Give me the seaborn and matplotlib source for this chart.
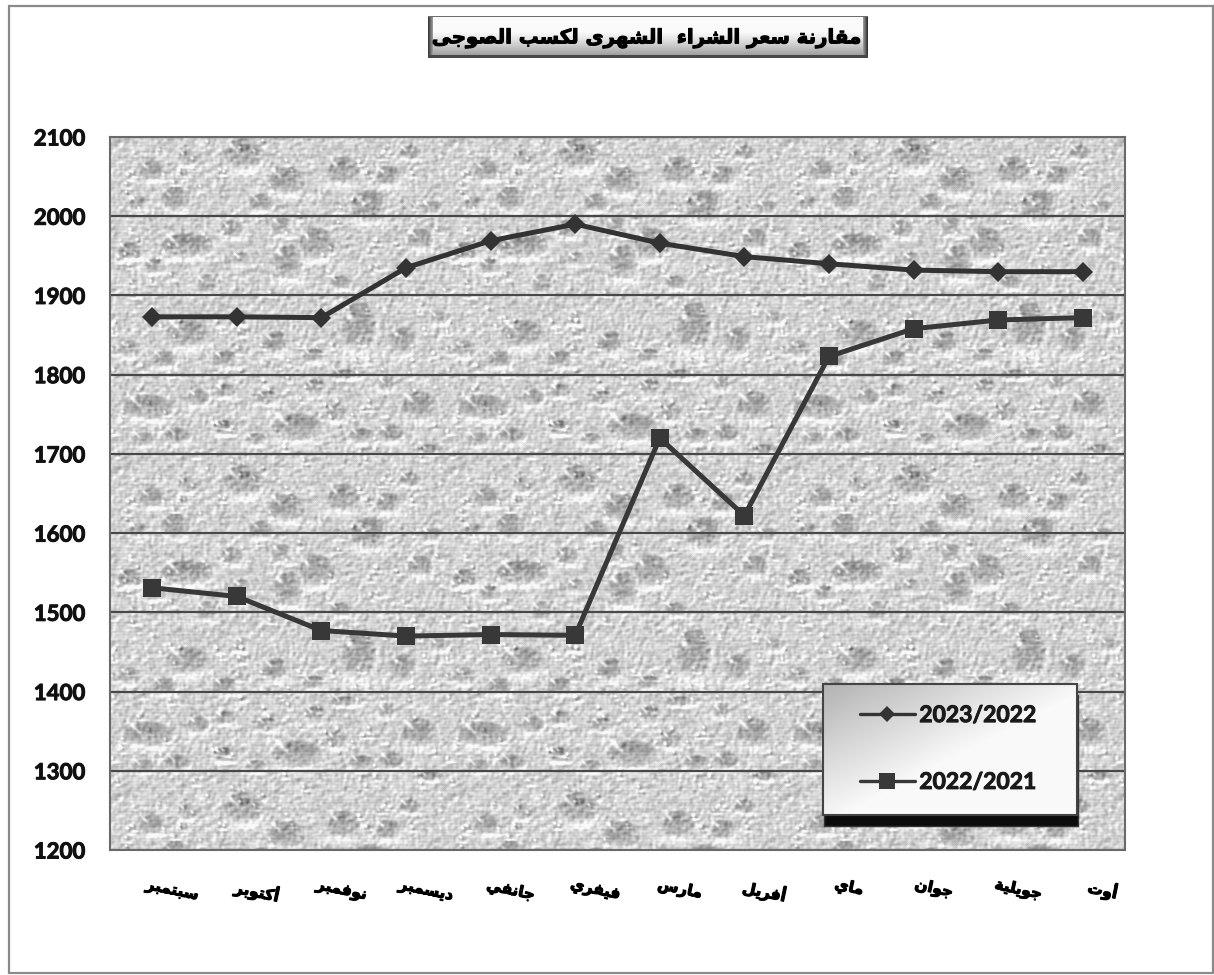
import numpy as np
import pandas as pd
import matplotlib
matplotlib.use("Agg")
import matplotlib.pyplot as plt
import matplotlib.patheffects as pe
import seaborn as sns
from matplotlib.patches import Rectangle
from matplotlib.transforms import ScaledTranslation

W, H = 1214, 975

TITLE = "مقارنة سعر الشراء  الشهرى لكسب الصوجى"
MONTHS = ["سبتمبر", "أكتوبر", "نوفمبر", "ديسمبر", "جانفي", "فيفري",
          "مارس", "أفريل", "ماي", "جوان", "جويلية", "أوت"]
SEASON_A = "2023/2022"
SEASON_B = "2022/2021"
VALUES_A = [1873, 1873, 1872, 1935, 1969, 1990, 1966, 1949, 1940, 1932, 1930, 1930]
VALUES_B = [1531, 1520, 1477, 1470, 1472, 1471, 1720, 1622, 1823, 1858, 1869, 1872]
Y_TICKS = [1200, 1300, 1400, 1500, 1600, 1700, 1800, 1900, 2000, 2100]

# background picture only: drops of the repeating tile (x, y, rx, ry, in 1/3 px)
DROPS = [(400, 50, 55, 45), (530, 130, 50, 40), (700, 100, 45, 40), (125, 100, 35, 28),
         (195, 185, 40, 35), (230, 60, 25, 25), (835, 115, 35, 28), (775, 205, 50, 45),
         (455, 195, 35, 25), (85, 195, 25, 20), (965, 210, 30, 20), (900, 45, 30, 20),
         (365, 275, 30, 25), (515, 265, 30, 25), (230, 325, 75, 35), (620, 320, 50, 45),
         (535, 375, 40, 50), (930, 305, 35, 30), (60, 340, 35, 25), (135, 385, 30, 22),
         (395, 365, 25, 20), (290, 440, 28, 28), (690, 435, 30, 20), (745, 570, 50, 70),
         (235, 590, 60, 40), (880, 610, 35, 40), (495, 615, 35, 35), (60, 635, 30, 25),
         (165, 665, 35, 25), (345, 665, 35, 25), (610, 655, 30, 20), (985, 540, 25, 20),
         (700, 710, 35, 15), (115, 810, 70, 35), (265, 780, 30, 25), (345, 760, 30, 20),
         (470, 780, 30, 20), (615, 750, 30, 25), (930, 805, 50, 40), (830, 740, 25, 20),
         (560, 870, 70, 40), (340, 870, 30, 22), (205, 895, 35, 25), (100, 905, 30, 20),
         (435, 905, 30, 18), (755, 895, 35, 22), (845, 890, 35, 25), (680, 825, 30, 25),
         (960, 935, 35, 15)]

# first presentation form of each letter, with 4 forms or only isolated/final
DUAL = {"ب": 0xFE8F, "ت": 0xFE95, "ج": 0xFE9D, "س": 0xFEB1, "ش": 0xFEB5, "ص": 0xFEB9,
        "ع": 0xFEC9, "ف": 0xFED1, "ق": 0xFED5, "ك": 0xFED9, "ل": 0xFEDD, "م": 0xFEE1,
        "ن": 0xFEE5, "ه": 0xFEE9, "ي": 0xFEF1}
RIGHT = {"ا": 0xFE8D, "أ": 0xFE83, "ة": 0xFE93, "د": 0xFEA9, "ر": 0xFEAD, "ز": 0xFEAF,
         "و": 0xFEED, "ى": 0xFEEF}
ALONE = {"ء": 0xFE80}


def shape(text):
    # matplotlib does no Arabic shaping, so pick the glyph forms and reverse
    out = []
    for i, c in enumerate(text):
        if c not in DUAL and c not in RIGHT and c not in ALONE:
            out.append(c)
            continue
        if c in ALONE:
            out.append(chr(ALONE[c]))
            continue
        before = i > 0 and text[i - 1] in DUAL
        after = i + 1 < len(text) and (text[i + 1] in DUAL or text[i + 1] in RIGHT)
        if c in RIGHT:
            out.append(chr(RIGHT[c] + (1 if before else 0)))
        elif before and after:
            out.append(chr(DUAL[c] + 3))
        elif after:
            out.append(chr(DUAL[c] + 2))
        elif before:
            out.append(chr(DUAL[c] + 1))
        else:
            out.append(chr(DUAL[c]))
    return "".join(reversed(out))


def blur(a, n=1):
    for _ in range(n):
        a = (a + np.roll(a, 1, 0) + np.roll(a, -1, 0) + np.roll(a, 1, 1) + np.roll(a, -1, 1)) / 5
    return a


def water_tile(tw=335, th=327):
    # texture only, the fixed seed never touches the chart values
    rng = np.random.default_rng(7)
    img = 210 + blur(rng.normal(0, 38, (th, tw)), 3)
    yy, xx = np.mgrid[0:th, 0:tw]
    small = [(rng.uniform(0, 1005), rng.uniform(0, 981), rng.uniform(7, 15), rng.uniform(6, 13))
             for _ in range(150)]
    for zx, zy, zrx, zry in DROPS + small:
        cx, cy, rx, ry = zx / 3, zy / 3, zrx / 3, zry / 3
        dx = (xx - cx + tw / 2) % tw - tw / 2
        dy = (yy - cy + th / 2) % th - th / 2
        d = (dx / rx) ** 2 + (dy / ry) ** 2
        strength = 62 * min(1.0, rx / 12)
        body = np.clip(1.2 - d, 0, 1) ** 0.6
        img -= strength * body * (0.7 + 0.3 * np.clip(-dy / ry, -1, 1))
        # soft light under the drop and a sliver on the upper left
        under = np.exp(-((dx / (rx * 1.1)) ** 2 + ((dy - ry * 1.25) / (ry * 0.35)) ** 2))
        img += 30 * under
        u = (dx + rx * 0.55) * 0.7 + (dy + ry * 0.45) * 0.7
        v = -(dx + rx * 0.55) * 0.7 + (dy + ry * 0.45) * 0.7
        img += 75 * np.exp(-(u / (rx * 0.42)) ** 2 - (v / max(ry * 0.13, 1.0)) ** 2)
    img = blur(img, 1)
    # raised look, as if embossed
    img += 0.8 * (img - np.roll(img, (2, 2), (0, 1)))
    img += 4 * np.sin(yy * 2 * np.pi / 3)
    return np.clip(img, 80, 250)


def main():
    sns.set_theme(style="white")
    plt.rcParams["font.family"] = ["DejaVu Sans"]

    df = pd.DataFrame({
        "month": MONTHS * 2,
        "price": VALUES_A + VALUES_B,
        "season": [SEASON_A] * len(MONTHS) + [SEASON_B] * len(MONTHS),
    })

    fig = plt.figure(figsize=(W / 100, H / 100), dpi=100, facecolor="white")
    ax = fig.add_axes([110 / W, 1 - 850 / H, 1015 / W, 713 / H])

    sns.lineplot(data=df, x="month", y="price", hue="season", style="season",
                 hue_order=[SEASON_A, SEASON_B], style_order=[SEASON_A, SEASON_B],
                 palette=["#333333", "#383838"], markers=["D", "s"], dashes=False,
                 linewidth=3.6, errorbar=None, legend=False, ax=ax, zorder=3)
    for line, size in zip(ax.lines[:2], [10, 13]):
        line.set_markersize(size)
        line.set_markeredgewidth(0)

    # water drops behind the plot
    tile = water_tile()
    back = np.tile(tile, (3, 4))[:713, :1015]
    ax.imshow(back, cmap="gray", vmin=0, vmax=255, extent=(0, 1, 0, 1), transform=ax.transAxes,
              aspect="auto", interpolation="bilinear", zorder=0)

    ax.set_xlim(-0.5, 11.5)
    ax.set_ylim(1200, 2100)
    ax.set_yticks(Y_TICKS)
    ax.set_xticks(range(len(MONTHS)))
    ax.set_xticklabels([shape(m) for m in MONTHS], rotation=-12, ha="center",
                       fontsize=11, fontweight="bold", color="black")
    ax.tick_params(axis="x", length=0, pad=20)
    ax.tick_params(axis="y", length=0, pad=18)
    # the offset goes after tick_params, which would reset it
    for label in ax.get_xticklabels():
        label.set_transform(label.get_transform() + ScaledTranslation(0.2, 0, fig.dpi_scale_trans))
        label.set_path_effects([pe.withStroke(linewidth=0.8, foreground="black")])
    for label in ax.get_yticklabels():
        label.set_family("Lato")
        label.set_fontweight("bold")
        label.set_fontsize(16)
        label.set_color("#111111")
        label.set_path_effects([pe.withStroke(linewidth=0.7, foreground="#111111")])
    ax.set_xlabel("")
    ax.set_ylabel("")
    ax.grid(False)
    ax.yaxis.grid(True, color="#484848", linewidth=1.6)
    ax.set_axisbelow(True)
    for spine in ax.spines.values():
        spine.set_color("#6a6a6a")
        spine.set_linewidth(1.5)

    # legend box, gradient and shadow
    lx0, lx1 = (823 - 110) / 1015, (1077 - 110) / 1015
    ly0, ly1 = (850 - 815) / 713, (850 - 684) / 713
    ax.add_patch(Rectangle((lx0 + 0.001, (850 - 826) / 713), lx1 - lx0, ly1 - ly0, transform=ax.transAxes,
                           facecolor="#0c0c0c", edgecolor="#333333", linewidth=1, zorder=4.5))
    gx, gy = np.meshgrid(np.linspace(0, 1, 254), np.linspace(0, 1, 131))
    ax.imshow(178 + 72 * np.clip((gx + gy) / 1.1, 0, 1), cmap="gray", vmin=0, vmax=255,
              extent=(lx0, lx1, ly0, ly1), transform=ax.transAxes, aspect="auto", zorder=4.6)
    ax.add_patch(Rectangle((lx0, ly0), lx1 - lx0, ly1 - ly0, transform=ax.transAxes,
                           facecolor="none", edgecolor="#444444", linewidth=1.5, zorder=4.7))
    ax.set_xlim(-0.5, 11.5)
    ax.set_ylim(1200, 2100)
    leg = ax.legend(ax.lines[:2], [SEASON_A, SEASON_B], loc="center", frameon=False,
                    bbox_to_anchor=((948 - 110) / 1015, (850 - 749) / 713),
                    prop={"family": "Lato", "weight": "bold", "size": 16.5},
                    handlelength=2.4, handletextpad=0.2, labelspacing=2.0)
    leg.set_zorder(6)
    for t in leg.get_texts():
        t.set_color("#1a1a1a")
        t.set_path_effects([pe.withStroke(linewidth=0.7, foreground="#1a1a1a")])
    for handle, size in zip(leg.get_lines(), [8, 12]):
        handle.set_linewidth(2.4)
        handle.set_markersize(size)

    # title plate
    tax = fig.add_axes([428 / W, 1 - 58 / H, 440 / W, 42 / H])
    gy2 = np.linspace(0, 1, 42)
    plate = np.tile(250 - 120 * np.clip(gy2 - 0.35, 0, 1) ** 1.3 / 0.65, (440, 1)).T
    plate[:, :5] = np.linspace(60, 150, 5)
    plate[:, -5:] = np.linspace(150, 50, 5)
    plate[-3:, :] = 70
    plate[:1, :] = 110
    tax.imshow(plate, cmap="gray", vmin=0, vmax=255, aspect="auto")
    tax.set_axis_off()
    tax.text(0.5, 0.47, shape(TITLE), transform=tax.transAxes, ha="center", va="center",
             fontsize=14.2, fontweight="bold", color="black",
             path_effects=[pe.withStroke(linewidth=0.8, foreground="black")])

    # outer frame
    fig.add_artist(Rectangle((9 / W, 1 - 973 / H), 1204 / W, 967 / H, transform=fig.transFigure,
                             facecolor="none", edgecolor="#8a8a8a", linewidth=1.6))

    fig.savefig("out.png", dpi=100)


if __name__ == "__main__":
    main()
